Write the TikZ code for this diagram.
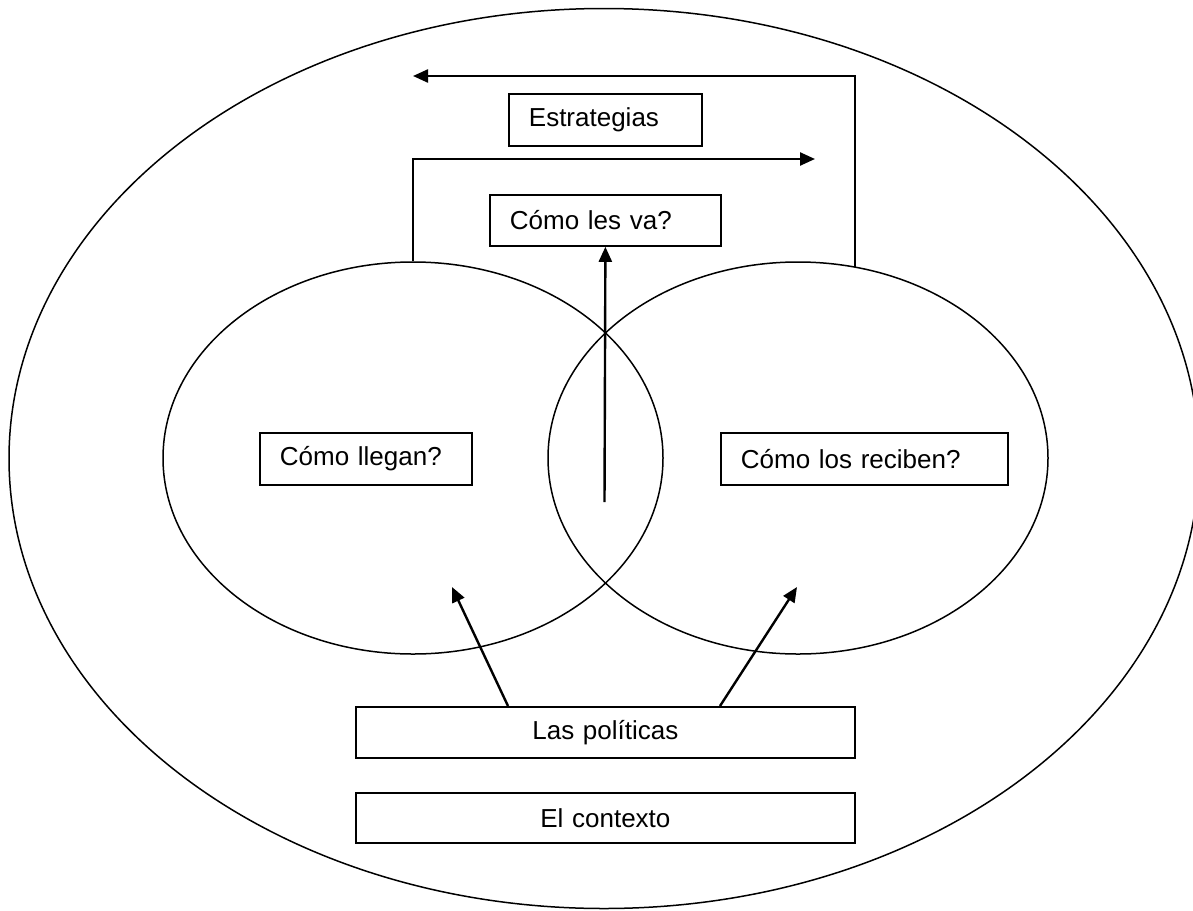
\documentclass[tikz,border=0pt]{standalone}
\usepackage{fontspec}
\setmainfont{Liberation Sans}
\usetikzlibrary{arrows.meta,shapes.geometric}
\begin{document}
\begin{tikzpicture}[x=1pt,y=-1pt,
  box/.style={draw,line width=1.8pt,inner xsep=20pt,inner ysep=0pt,
    font=\fontsize{26}{30}\selectfont,anchor=north west,align=left},
  cbox/.style={box,align=center},
  arr/.style={line width=2.4pt,-{Triangle[length=15pt,width=13pt]}},
  ring/.style={draw,ellipse,line width=1.5pt,inner sep=0pt}]
\useasboundingbox (0,0) rectangle (1193,910);
% outer ellipse and the two circles
\node[ring,minimum width=1190pt,minimum height=900pt] (outer) at (604,458.5) {};
\node[ring,minimum width=500pt,minimum height=392pt] (L) at (413,458) {};
\node[ring,minimum width=500pt,minimum height=392pt] (R) at (798,458) {};
% boxes
\node[box,text width=153pt,minimum height=52pt] (est) at (508,93) {Estrategias};
\node[box,text width=191pt,minimum height=51pt] (va) at (489,194) {Cómo les va?};
\node[box,text width=172pt,minimum height=52pt] (lle) at (259,432) {Cómo llegan?};
\node[box,text width=247pt,minimum height=52pt] (rec) at (720,432) {Cómo los reciben?};
\node[cbox,text width=459pt,minimum height=51pt] (pol) at (355,706) {Las políticas};
\node[cbox,text width=459pt,minimum height=50pt] (ctx) at (355,792) {El contexto};
% connector points
\coordinate (rtop) at (855,267);
\coordinate (c1) at (855,76);
\coordinate (t1) at (413,76);
\coordinate (c2) at (413,159);
\coordinate (t2) at (815,159);
\coordinate (vs) at (604.5,502);
\coordinate (p1) at (508,706);
\coordinate (a1) at (452,587);
\coordinate (p2) at (720,706);
\coordinate (a2) at (797,587);
% connectors
\draw[arr] (rtop) -- (c1) -- (t1);
\draw[arr] (L.north) -- (c2) -- (t2);
\draw[arr] (vs) -- (va.south);
\draw[arr] (p1) -- (a1);
\draw[arr] (p2) -- (a2);
\end{tikzpicture}
\end{document}
